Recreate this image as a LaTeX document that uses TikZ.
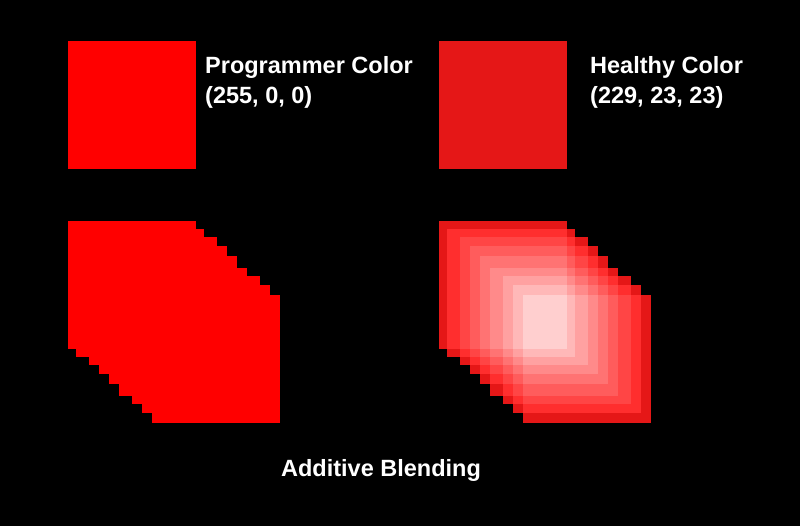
\documentclass[tikz,border=0pt]{standalone}
\usepackage{fontspec}
\setmainfont{Liberation Sans}
\definecolor{progred}{RGB}{255,0,0}
\definecolor{healthy}{RGB}{229,23,23}
\tikzset{
  lbl/.style={text=white,font=\bfseries\fontsize{23.5}{30}\selectfont,align=left,anchor=base west,inner sep=0pt},
  sq/.style={fill=#1,draw=none}
}
\begin{document}
\begin{tikzpicture}[x=1pt,y=-1pt]
\fill[black] (0,0) rectangle (800,526);
\useasboundingbox (0,0) rectangle (800,526);
% top squares
\node[sq=progred,minimum size=128pt,inner sep=0pt,anchor=north west] (prog) at (68,41) {};
\node[sq=healthy,minimum size=128pt,inner sep=0pt,anchor=north west] (heal) at (439,41) {};
\node[lbl] (progtxt) at (205,103.5) {Programmer Color\\(255, 0, 0)};
\node[lbl] (healtxt) at (590,103.5) {Healthy Color\\(229, 23, 23)};
% offsets
\def\dxs{{0,8,21,31,41,51,64,74,84}}
\def\dys{{0,8,16,25,35,47,55,64,74}}
% left: programmer color additive (saturates)
\foreach \i in {0,...,8}{
  \pgfmathsetmacro\a{\dxs[\i]}
  \pgfmathsetmacro\b{\dys[\i]}
  \fill[progred] (68+\a,221+\b) rectangle ++(128,128);
}
% right: healthy color additive blending, regions covered by >= k squares
\foreach \k in {1,...,9}{
  \pgfmathtruncatemacro\rr{min(255,229*\k)}
  \pgfmathtruncatemacro\gg{23*\k}
  \definecolor{layer}{RGB}{\rr,\gg,\gg}
  \pgfmathtruncatemacro\last{9-\k}
  \foreach \i in {0,...,\last}{
    \pgfmathtruncatemacro\j{\i+\k-1}
    \pgfmathsetmacro\xa{\dxs[\j]}
    \pgfmathsetmacro\ya{\dys[\j]}
    \pgfmathsetmacro\xb{\dxs[\i]+128}
    \pgfmathsetmacro\yb{\dys[\i]+128}
    \fill[layer] (439+\xa,221+\ya) rectangle (439+\xb,221+\yb);
  }
}
\node[lbl,anchor=base] (title) at (381,476) {Additive Blending};
\end{tikzpicture}
\end{document}
